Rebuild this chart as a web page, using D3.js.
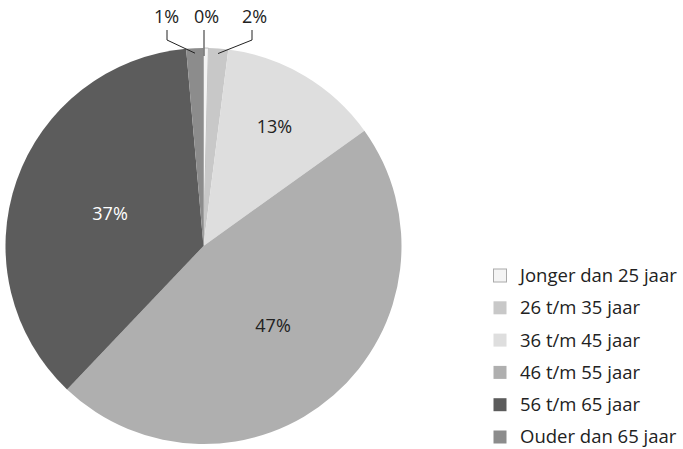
<!DOCTYPE html>
<html><head><meta charset="utf-8">
<script src="https://cdn.jsdelivr.net/npm/d3@7"></script>
<style>body{margin:0;background:#fff}svg{display:block}text{font-family:"Open Sans",sans-serif}</style>
</head><body><svg id="c" width="683" height="449"></svg>
<script>
const categories = ["Jonger dan 25 jaar","26 t/m 35 jaar","36 t/m 45 jaar","46 t/m 55 jaar","56 t/m 65 jaar","Ouder dan 65 jaar"];
const values = [0.4, 1.6, 13.1, 47.0, 36.5, 1.4];
const labels = ["0%","2%","13%","47%","37%","1%"];
const colors = ["#f4f4f4","#c8c8c8","#dedede","#afafaf","#5c5c5c","#8c8c8c"];

const svg = d3.select("#c");
const cx = 203.5, cy = 246, R = 198;
const g = svg.append("g").attr("transform",`translate(${cx},${cy})`);
const pie = d3.pie().sort(null).value(d=>d)(values);
const arc = d3.arc().innerRadius(0).outerRadius(R);
g.selectAll("path").data(pie).join("path")
  .attr("d",arc).attr("fill",(d,i)=>colors[i])
  .attr("stroke",(d,i)=>i===0?"#999":"none").attr("stroke-width",0.6);

// inside labels (radius factor per slice)
const inside = [{i:2,f:0.70},{i:3,f:0.535},{i:4,f:0.50}];
inside.forEach(o=>{
  const a = (pie[o.i].startAngle+pie[o.i].endAngle)/2;
  const x = Math.sin(a)*R*o.f, y = -Math.cos(a)*R*o.f;
  g.append("text").attr("x",x).attr("y",y).attr("text-anchor","middle")
   .attr("dy","0.35em").attr("font-size",18).attr("fill",o.i===4?"#fff":"#222").text(labels[o.i]);
});

// outside labels with leaders
const outside = [
  {i:5, lx:-36.5, tx:-37, col:"#222", w:1},
  {i:0, lx:0.5, tx:3, col:"#777", w:1.6},
  {i:1, lx:48.5, tx:51, col:"#222", w:1}
];
const topY = -216, bendY = -206, rEnd = R-5;
outside.forEach(o=>{
  const a = (pie[o.i].startAngle+pie[o.i].endAngle)/2;
  const px = Math.sin(a)*rEnd, py = -Math.cos(a)*rEnd;
  const pts = o.i===0 ? [[o.lx,topY],[o.lx,py+3]] : [[o.lx,topY],[o.lx,bendY],[px,py]];
  g.append("path").attr("d",d3.line()(pts)).attr("fill","none")
   .attr("stroke",o.col).attr("stroke-width",o.w);
  g.append("text").attr("x",o.tx).attr("y",-223).attr("text-anchor","middle")
   .attr("font-size",18).attr("fill","#222").text(labels[o.i]);
});

// legend
const lg = svg.append("g").attr("transform","translate(493,268.5)");
const rows = lg.selectAll("g").data(categories).join("g")
  .attr("transform",(d,i)=>`translate(0,${i*32.3})`);
rows.append("rect").attr("x",0.5).attr("y",0.5).attr("width",13).attr("height",13)
  .attr("fill",(d,i)=>colors[i]).attr("stroke",(d,i)=>i===0?"#aaa":"none");
rows.append("text").attr("x",27).attr("y",7).attr("dy","0.35em").attr("font-size",18.5).attr("fill","#222").text(d=>d);
</script></body></html>
